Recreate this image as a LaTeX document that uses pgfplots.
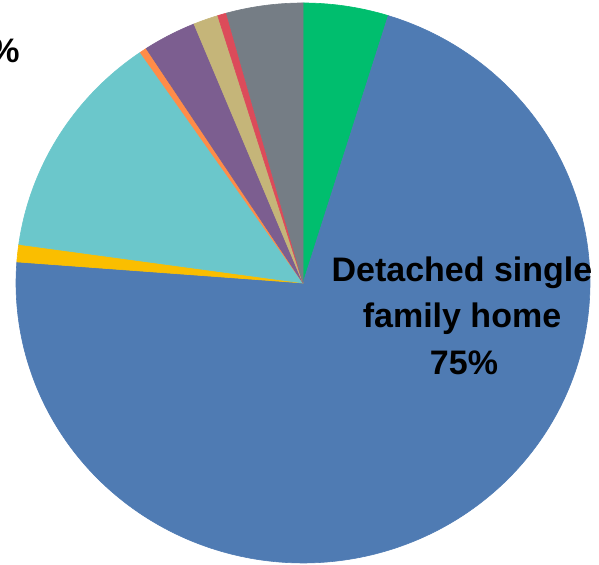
\documentclass[border=0pt]{standalone}
\usepackage{pgfplots}
\usepackage{pgfplotstable}
\pgfplotsset{compat=1.18}
\usepackage{fontspec}
\setmainfont{Liberation Sans}
\definecolor{cGreen}{RGB}{0,190,110}
\definecolor{cBlue}{RGB}{79,123,179}
\definecolor{cYellow}{RGB}{250,190,0}
\definecolor{cTeal}{RGB}{107,199,203}
\definecolor{cOrange}{RGB}{255,140,72}
\definecolor{cPurple}{RGB}{124,94,144}
\definecolor{cTan}{RGB}{197,181,121}
\definecolor{cRed}{RGB}{220,75,90}
\definecolor{cGray}{RGB}{117,125,133}
\pgfplotstableread{
pct col
4.8 cGreen
71.4 cBlue
1.0 cYellow
13.2 cTeal
0.4 cOrange
3.0 cPurple
1.4 cTan
0.5 cRed
4.3 cGray
}\piedata
\begin{document}
\begin{tikzpicture}
\begin{axis}[
  x=0.5pt, y=0.5pt,
  xmin=-303, xmax=296, ymin=-282, ymax=283,
  hide axis, clip=false,
]
\pgfplotstablegetrowsof{\piedata}
\pgfmathtruncatemacro{\N}{\pgfplotsretval-1}
\def\cum{0}
\pgfplotsforeachungrouped \i in {0,...,\N}{%
  \pgfplotstablegetelem{\i}{pct}\of{\piedata}\let\p\pgfplotsretval
  \pgfplotstablegetelem{\i}{col}\of{\piedata}\let\c\pgfplotsretval
  \pgfmathsetmacro{\a}{\cum*3.6}%
  \pgfmathsetmacro{\b}{(\cum+\p)*3.6}%
  \pgfmathsetmacro{\cum}{\cum+\p}%
  \edef\temp{\noexpand\addplot[fill=\c, draw=\c, line width=0.3pt, line join=round, domain=\a:\b, samples=120, smooth=false] ({287*sin(x)},{280*cos(x)}) -- (axis cs:0,0) -- cycle;}%
  \temp
}
\tikzset{lbl/.style={inner sep=0pt, font=\bfseries\fontsize{17}{20}\selectfont}}
\node[lbl, anchor=base] at (axis cs:159,1) {Detached single};
\node[lbl, anchor=base] at (axis cs:159,-45) {family home};
\node[lbl, anchor=base] at (axis cs:161,-92) {75\%};
\node[lbl, anchor=base east] at (axis cs:-283,220) {13\%};
\end{axis}
\pgfresetboundingbox
\path[use as bounding box] (current axis.south west) rectangle (current axis.north east);
\end{tikzpicture}
\end{document}
